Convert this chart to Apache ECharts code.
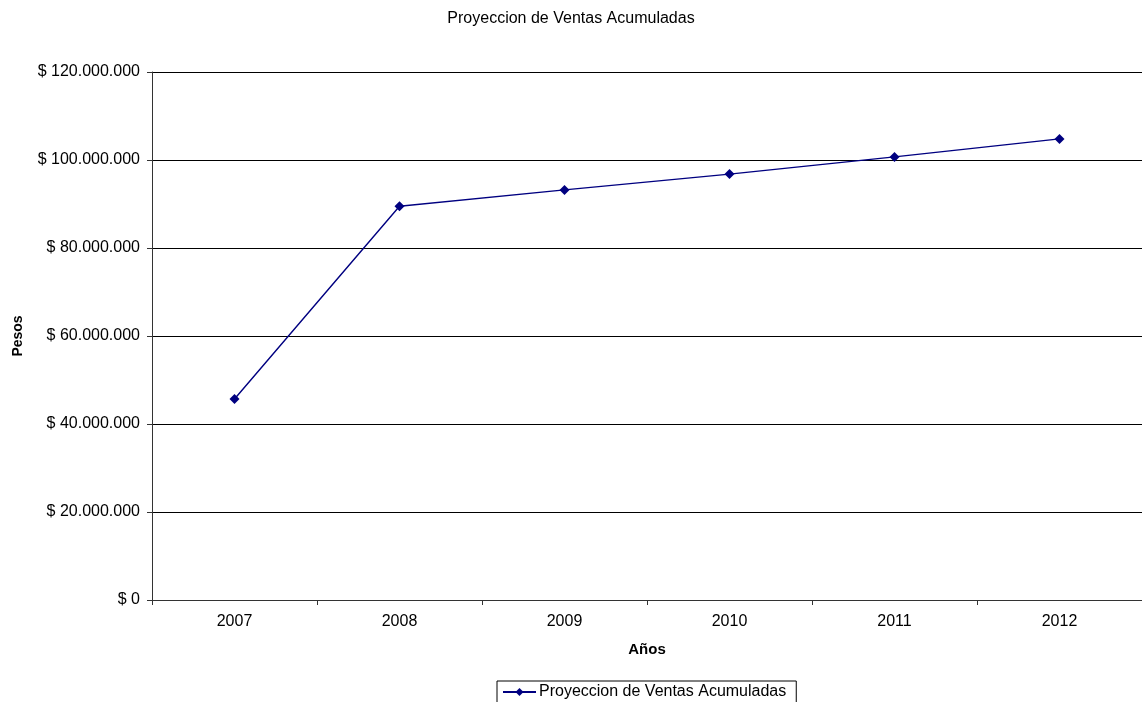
<!DOCTYPE html>
<html><head><meta charset="utf-8">
<script src="https://cdn.jsdelivr.net/npm/echarts@6/dist/echarts.min.js"></script>
<style>html,body{margin:0;padding:0;background:#fff}#c{width:1142px;height:702px}</style>
</head><body><div id="c"></div>
<script>
const years = ['2007','2008','2009','2010','2011','2012'];
const ventas = [45700000, 89500000, 93200000, 96800000, 100700000, 104800000];
const seriesName = 'Proyeccion de Ventas Acumuladas';

function fmt(v){
  if (v === 0) return '$ 0';
  return '$ ' + String(v).replace(/\B(?=(\d{3})+(?!\d))/g, '.');
}
const F = 'Liberation Sans, Arial, sans-serif';
const chart = echarts.init(document.getElementById('c'));
chart.setOption({
  animation: false,
  backgroundColor: '#fff',
  title: { text: seriesName, left: 'center', top: 6,
    textStyle: { fontFamily: F, fontSize: 16, fontWeight: 'normal', color: '#000' } },
  grid: { left: 152, right: 0, top: 72, bottom: 102, containLabel: false, outerBoundsMode: 'none' },
  legend: { data: [seriesName], top: 681, left: 497,
    borderColor: '#000', borderWidth: 1, borderRadius: 0, padding: [3, 10, 4, 5],
    itemWidth: 33, itemHeight: 10, itemGap: 3,
    textStyle: { fontFamily: F, fontSize: 16, color: '#000', padding: [0, 0, 0, -2] } },
  xAxis: { type: 'category', data: years, boundaryGap: true,
    name: 'Años', nameLocation: 'middle', nameGap: 42,
    nameTextStyle: { fontFamily: F, fontSize: 15, fontWeight: 'bold', color: '#000' },
    axisLine: { lineStyle: { color: '#333', width: 1 } },
    axisTick: { show: true, length: 5, lineStyle: { color: '#333' } },
    axisLabel: { fontFamily: F, fontSize: 16, color: '#000', margin: 14 } },
  yAxis: { type: 'value', min: 0, max: 120000000, interval: 20000000,
    name: 'Pesos', nameLocation: 'middle', nameGap: 127, nameRotate: 90,
    nameTextStyle: { fontFamily: F, fontSize: 14, fontWeight: 'bold', color: '#000' },
    axisLine: { show: true, lineStyle: { color: '#333', width: 1 } },
    axisTick: { show: true, length: 5, lineStyle: { color: '#333' } },
    splitLine: { lineStyle: { color: '#000', width: 1 } },
    axisLabel: { fontFamily: F, fontSize: 16, color: '#000', margin: 12, formatter: fmt } },
  series: [{ name: seriesName, type: 'line', data: ventas,
    symbol: 'diamond', symbolSize: 10,
    lineStyle: { color: '#000080', width: 1.4 },
    itemStyle: { color: '#000080' } }]
});
</script></body></html>
